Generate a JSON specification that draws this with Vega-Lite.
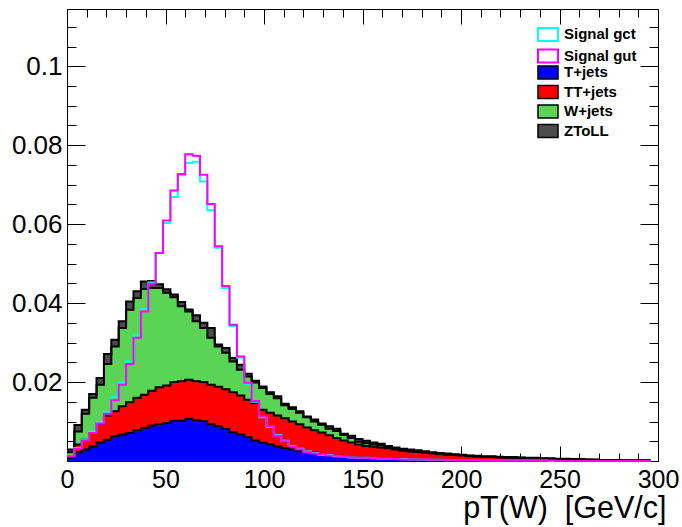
{
  "$schema": "https://vega.github.io/schema/vega-lite/v6.json",
  "width": 591,
  "height": 452,
  "autosize": "none",
  "padding": {"left": 67, "top": 9, "right": 24, "bottom": 66},
  "background": "white",
  "config": {
    "font": "Liberation Sans",
    "view": {"stroke": "#000000", "strokeWidth": 1},
    "axis": {"tickColor": "#000000", "tickWidth": 1, "labelColor": "#000000", "titleColor": "#000000", "labelFont": "Liberation Sans", "titleFont": "Liberation Sans", "grid": false, "domain": false, "zindex": 1},
    "legend": {"labelFontSize": 15, "labelFontWeight": "bold", "labelFont": "Liberation Sans", "labelColor": "#000000", "labelOffset": 8.5, "rowPadding": 0.5, "padding": 0, "symbolType": "M-1.54,-1H1.54V1H-1.54Z", "symbolSize": 169, "symbolOpacity": 1}
  },
  "data": {
    "values": [
      {"lo": 0, "tjets": 0.0008, "ttjets": 0.0004, "wjets": 0.0010, "ztoll": 0.0007, "gct": 0.0012, "gut": 0.0012},
      {"lo": 3.75, "tjets": 0.0022, "ttjets": 0.0020, "wjets": 0.0033, "ztoll": 0.0016, "gct": 0.0033, "gut": 0.0031},
      {"lo": 7.5, "tjets": 0.0029, "ttjets": 0.0025, "wjets": 0.0066, "ztoll": 0.0010, "gct": 0.0054, "gut": 0.0052},
      {"lo": 11.25, "tjets": 0.0037, "ttjets": 0.0034, "wjets": 0.0089, "ztoll": 0.0010, "gct": 0.0074, "gut": 0.0071},
      {"lo": 15, "tjets": 0.0047, "ttjets": 0.0048, "wjets": 0.0098, "ztoll": 0.0017, "gct": 0.0098, "gut": 0.0095},
      {"lo": 18.75, "tjets": 0.0054, "ttjets": 0.0061, "wjets": 0.0131, "ztoll": 0.0025, "gct": 0.0123, "gut": 0.0120},
      {"lo": 22.5, "tjets": 0.0063, "ttjets": 0.0063, "wjets": 0.0164, "ztoll": 0.0017, "gct": 0.0162, "gut": 0.0154},
      {"lo": 26.25, "tjets": 0.0067, "ttjets": 0.0072, "wjets": 0.0198, "ztoll": 0.0017, "gct": 0.0199, "gut": 0.0193},
      {"lo": 30, "tjets": 0.0071, "ttjets": 0.0078, "wjets": 0.0234, "ztoll": 0.0021, "gct": 0.0253, "gut": 0.0246},
      {"lo": 33.75, "tjets": 0.0078, "ttjets": 0.0082, "wjets": 0.0253, "ztoll": 0.0017, "gct": 0.0318, "gut": 0.0312},
      {"lo": 37.5, "tjets": 0.0084, "ttjets": 0.0084, "wjets": 0.0268, "ztoll": 0.0019, "gct": 0.0385, "gut": 0.0379},
      {"lo": 41.25, "tjets": 0.0090, "ttjets": 0.0088, "wjets": 0.0260, "ztoll": 0.0018, "gct": 0.0452, "gut": 0.0449},
      {"lo": 45, "tjets": 0.0094, "ttjets": 0.0093, "wjets": 0.0251, "ztoll": 0.0010, "gct": 0.0527, "gut": 0.0527},
      {"lo": 48.75, "tjets": 0.0096, "ttjets": 0.0095, "wjets": 0.0235, "ztoll": 0.0009, "gct": 0.0603, "gut": 0.0609},
      {"lo": 52.5, "tjets": 0.0102, "ttjets": 0.0098, "wjets": 0.0215, "ztoll": 0.0007, "gct": 0.0669, "gut": 0.0685},
      {"lo": 56.25, "tjets": 0.0102, "ttjets": 0.0100, "wjets": 0.0190, "ztoll": 0.0011, "gct": 0.0724, "gut": 0.0727},
      {"lo": 60, "tjets": 0.0107, "ttjets": 0.0099, "wjets": 0.0173, "ztoll": 0.0005, "gct": 0.0755, "gut": 0.0777},
      {"lo": 63.75, "tjets": 0.0103, "ttjets": 0.0099, "wjets": 0.0152, "ztoll": 0.0015, "gct": 0.0758, "gut": 0.0773},
      {"lo": 67.5, "tjets": 0.0101, "ttjets": 0.0099, "wjets": 0.0137, "ztoll": 0.0013, "gct": 0.0708, "gut": 0.0725},
      {"lo": 71.25, "tjets": 0.0094, "ttjets": 0.0099, "wjets": 0.0119, "ztoll": 0.0025, "gct": 0.0635, "gut": 0.0651},
      {"lo": 75, "tjets": 0.0088, "ttjets": 0.0100, "wjets": 0.0102, "ztoll": 0.0005, "gct": 0.0540, "gut": 0.0544},
      {"lo": 78.75, "tjets": 0.0081, "ttjets": 0.0101, "wjets": 0.0092, "ztoll": 0.0012, "gct": 0.0438, "gut": 0.0443},
      {"lo": 82.5, "tjets": 0.0073, "ttjets": 0.0101, "wjets": 0.0078, "ztoll": 0.0009, "gct": 0.0342, "gut": 0.0345},
      {"lo": 86.25, "tjets": 0.0067, "ttjets": 0.0099, "wjets": 0.0065, "ztoll": 0.0013, "gct": 0.0262, "gut": 0.0265},
      {"lo": 90, "tjets": 0.0060, "ttjets": 0.0095, "wjets": 0.0059, "ztoll": 0.0007, "gct": 0.0196, "gut": 0.0198},
      {"lo": 93.75, "tjets": 0.0052, "ttjets": 0.0095, "wjets": 0.0052, "ztoll": 0.0004, "gct": 0.0150, "gut": 0.0152},
      {"lo": 97.5, "tjets": 0.0046, "ttjets": 0.0084, "wjets": 0.0055, "ztoll": 0.0004, "gct": 0.0111, "gut": 0.0113},
      {"lo": 101.25, "tjets": 0.0042, "ttjets": 0.0080, "wjets": 0.0048, "ztoll": 0.0004, "gct": 0.0086, "gut": 0.0088},
      {"lo": 105, "tjets": 0.0037, "ttjets": 0.0078, "wjets": 0.0044, "ztoll": 0.0005, "gct": 0.0066, "gut": 0.0064},
      {"lo": 108.75, "tjets": 0.0033, "ttjets": 0.0075, "wjets": 0.0033, "ztoll": 0.0004, "gct": 0.0051, "gut": 0.0050},
      {"lo": 112.5, "tjets": 0.0029, "ttjets": 0.0071, "wjets": 0.0032, "ztoll": 0.0004, "gct": 0.0038, "gut": 0.0037},
      {"lo": 116.25, "tjets": 0.0025, "ttjets": 0.0068, "wjets": 0.0029, "ztoll": 0.0004, "gct": 0.0031, "gut": 0.0030},
      {"lo": 120, "tjets": 0.0022, "ttjets": 0.0063, "wjets": 0.0026, "ztoll": 0.0002, "gct": 0.0024, "gut": 0.0022},
      {"lo": 123.75, "tjets": 0.0021, "ttjets": 0.0057, "wjets": 0.0022, "ztoll": 0.0005, "gct": 0.0020, "gut": 0.0019},
      {"lo": 127.5, "tjets": 0.0018, "ttjets": 0.0054, "wjets": 0.0020, "ztoll": 0.0003, "gct": 0.0016, "gut": 0.0017},
      {"lo": 131.25, "tjets": 0.0015, "ttjets": 0.0050, "wjets": 0.0017, "ztoll": 0.0006, "gct": 0.0015, "gut": 0.0014},
      {"lo": 135, "tjets": 0.0013, "ttjets": 0.0045, "wjets": 0.0018, "ztoll": 0.0006, "gct": 0.0012, "gut": 0.0013},
      {"lo": 138.75, "tjets": 0.0011, "ttjets": 0.0041, "wjets": 0.0014, "ztoll": 0.0003, "gct": 0.0011, "gut": 0.0010},
      {"lo": 142.5, "tjets": 0.0010, "ttjets": 0.0037, "wjets": 0.0011, "ztoll": 0.0006, "gct": 0.0009, "gut": 0.0009},
      {"lo": 146.25, "tjets": 0.0009, "ttjets": 0.0033, "wjets": 0.0007, "ztoll": 0.0007, "gct": 0.0008, "gut": 0.0008},
      {"lo": 150, "tjets": 0.0008, "ttjets": 0.0030, "wjets": 0.0007, "ztoll": 0.0006, "gct": 0.0008, "gut": 0.0008},
      {"lo": 153.75, "tjets": 0.0007, "ttjets": 0.0029, "wjets": 0.0006, "ztoll": 0.0005, "gct": 0.0007, "gut": 0.0007},
      {"lo": 157.5, "tjets": 0.0006, "ttjets": 0.0028, "wjets": 0.0005, "ztoll": 0.0005, "gct": 0.0006, "gut": 0.0006},
      {"lo": 161.25, "tjets": 0.0006, "ttjets": 0.0026, "wjets": 0.0003, "ztoll": 0.0003, "gct": 0.0006, "gut": 0.0006},
      {"lo": 165, "tjets": 0.0005, "ttjets": 0.0024, "wjets": 0.0002, "ztoll": 0.0003, "gct": 0.0005, "gut": 0.0005},
      {"lo": 168.75, "tjets": 0.0005, "ttjets": 0.0021, "wjets": 0.0002, "ztoll": 0.0003, "gct": 0.0005, "gut": 0.0004},
      {"lo": 172.5, "tjets": 0.0004, "ttjets": 0.0020, "wjets": 0.0002, "ztoll": 0.0003, "gct": 0.0004, "gut": 0.0004},
      {"lo": 176.25, "tjets": 0.0004, "ttjets": 0.0019, "wjets": 0.0001, "ztoll": 0.0003, "gct": 0.0004, "gut": 0.0004},
      {"lo": 180, "tjets": 0.0003, "ttjets": 0.0018, "wjets": 0.0001, "ztoll": 0.0003, "gct": 0.0003, "gut": 0.0004},
      {"lo": 183.75, "tjets": 0.0003, "ttjets": 0.0016, "wjets": 0.0001, "ztoll": 0.0002, "gct": 0.0003, "gut": 0.0003},
      {"lo": 187.5, "tjets": 0.0003, "ttjets": 0.0014, "wjets": 0.0001, "ztoll": 0.0002, "gct": 0.0003, "gut": 0.0003},
      {"lo": 191.25, "tjets": 0.0002, "ttjets": 0.0014, "wjets": 0.0001, "ztoll": 0.0002, "gct": 0.0002, "gut": 0.0003},
      {"lo": 195, "tjets": 0.0002, "ttjets": 0.0013, "wjets": 0.0001, "ztoll": 0.0001, "gct": 0.0002, "gut": 0.0002},
      {"lo": 198.75, "tjets": 0.0002, "ttjets": 0.0012, "wjets": 0.0001, "ztoll": 0.0001, "gct": 0.0002, "gut": 0.0002},
      {"lo": 202.5, "tjets": 0.0002, "ttjets": 0.0010, "wjets": 0.0001, "ztoll": 0.0001, "gct": 0.0002, "gut": 0.0002},
      {"lo": 206.25, "tjets": 0.0001, "ttjets": 0.0010, "wjets": 0.0001, "ztoll": 0.0001, "gct": 0.0002, "gut": 0.0002},
      {"lo": 210, "tjets": 0.0001, "ttjets": 0.0009, "wjets": 0.0001, "ztoll": 0.0001, "gct": 0.0001, "gut": 0.0002},
      {"lo": 213.75, "tjets": 0.0001, "ttjets": 0.0009, "wjets": 0.0001, "ztoll": 0.0001, "gct": 0.0001, "gut": 0.0001},
      {"lo": 217.5, "tjets": 0.0001, "ttjets": 0.0008, "wjets": 0.0001, "ztoll": 0.0001, "gct": 0.0001, "gut": 0.0001},
      {"lo": 221.25, "tjets": 0.0001, "ttjets": 0.0007, "wjets": 0.0001, "ztoll": 0.0001, "gct": 0.0001, "gut": 0.0001},
      {"lo": 225, "tjets": 0.0001, "ttjets": 0.0007, "wjets": 0.0001, "ztoll": 0.0001, "gct": 0.0001, "gut": 0.0001},
      {"lo": 228.75, "tjets": 0.0001, "ttjets": 0.0006, "wjets": 0.0001, "ztoll": 0.0001, "gct": 0.0001, "gut": 0.0001},
      {"lo": 232.5, "tjets": 0.0001, "ttjets": 0.0006, "wjets": 0.0000, "ztoll": 0.0001, "gct": 0.0001, "gut": 0.0001},
      {"lo": 236.25, "tjets": 0.0001, "ttjets": 0.0005, "wjets": 0.0001, "ztoll": 0.0001, "gct": 0.0001, "gut": 0.0001},
      {"lo": 240, "tjets": 0.0000, "ttjets": 0.0006, "wjets": 0.0000, "ztoll": 0.0001, "gct": 0.0001, "gut": 0.0000},
      {"lo": 243.75, "tjets": 0.0000, "ttjets": 0.0005, "wjets": 0.0001, "ztoll": 0.0001, "gct": 0.0000, "gut": 0.0001},
      {"lo": 247.5, "tjets": 0.0000, "ttjets": 0.0005, "wjets": 0.0000, "ztoll": 0.0001, "gct": 0.0000, "gut": 0.0000},
      {"lo": 251.25, "tjets": 0.0000, "ttjets": 0.0004, "wjets": 0.0001, "ztoll": 0.0001, "gct": 0.0000, "gut": 0.0000},
      {"lo": 255, "tjets": 0.0000, "ttjets": 0.0004, "wjets": 0.0000, "ztoll": 0.0001, "gct": 0.0000, "gut": 0.0000},
      {"lo": 258.75, "tjets": 0.0000, "ttjets": 0.0004, "wjets": 0.0000, "ztoll": 0.0001, "gct": 0.0000, "gut": 0.0000},
      {"lo": 262.5, "tjets": 0.0000, "ttjets": 0.0003, "wjets": 0.0000, "ztoll": 0.0001, "gct": 0.0000, "gut": 0.0000},
      {"lo": 266.25, "tjets": 0.0000, "ttjets": 0.0003, "wjets": 0.0000, "ztoll": 0.0000, "gct": 0.0000, "gut": 0.0000},
      {"lo": 270, "tjets": 0.0000, "ttjets": 0.0002, "wjets": 0.0000, "ztoll": 0.0000, "gct": 0.0000, "gut": 0.0000},
      {"lo": 273.75, "tjets": 0.0000, "ttjets": 0.0002, "wjets": 0.0000, "ztoll": 0.0000, "gct": 0.0000, "gut": 0.0000},
      {"lo": 277.5, "tjets": 0.0000, "ttjets": 0.0002, "wjets": 0.0000, "ztoll": 0.0000, "gct": 0.0000, "gut": 0.0000},
      {"lo": 281.25, "tjets": 0.0000, "ttjets": 0.0001, "wjets": 0.0000, "ztoll": 0.0000, "gct": 0.0000, "gut": 0.0000},
      {"lo": 285, "tjets": 0.0000, "ttjets": 0.0001, "wjets": 0.0000, "ztoll": 0.0000, "gct": 0.0000, "gut": 0.0000},
      {"lo": 288.75, "tjets": 0.0000, "ttjets": 0.0001, "wjets": 0.0000, "ztoll": 0.0000, "gct": 0.0000, "gut": 0.0000},
      {"lo": 292.5, "tjets": 0.0000, "ttjets": 0.0001, "wjets": 0.0000, "ztoll": 0.0000, "gct": 0.0000, "gut": 0.0000},
      {"lo": 296.25, "tjets": 0.0000, "ttjets": 0.0001, "wjets": 0.0000, "ztoll": 0.0000, "gct": 0.0000, "gut": 0.0000}
    ]
  },
  "resolve": {"axis": {"x": "independent", "y": "independent"}},
  "layer": [
    {
      "transform": [
        {"fold": ["tjets", "ttjets", "wjets", "ztoll"], "as": ["process", "value"]},
        {"stack": "value", "groupby": ["lo"], "sort": [{"field": "process", "order": "ascending"}], "as": ["y0", "y1"]}
      ],
      "mark": {"type": "area", "interpolate": "step-after", "opacity": 1},
      "encoding": {
        "x": {
          "field": "lo", "type": "quantitative",
          "scale": {"domain": [0, 300], "nice": false, "zero": false},
          "axis": {
            "orient": "bottom", "values": [0, 50, 100, 150, 200, 250, 300],
            "tickSize": -15, "labelFontSize": 25, "labelPadding": 21,
            "labelFlush": false, "labelOverlap": false,
            "title": "pT(W) \u00a0[GeV/c]", "titleFontSize": 30.5, "titleFontWeight": "normal",
            "titleAlign": "right", "titleAnchor": "end", "titleBaseline": "alphabetic",
            "titleX": 599, "titleY": 56.6
          }
        },
        "y": {
          "field": "y1", "type": "quantitative",
          "scale": {"domain": [0, 0.1145], "nice": false, "zero": false},
          "axis": {
            "orient": "left", "values": [0.02, 0.04, 0.06, 0.08, 0.1], "format": "~g",
            "tickSize": -18, "labelFontSize": 26, "labelPadding": 23, "labelFlush": false, "title": null
          }
        },
        "y2": {"field": "y0"},
        "fill": {
          "field": "process", "type": "nominal",
          "scale": {
            "domain": ["tjets", "ttjets", "wjets", "ztoll"],
            "range": ["#0000ff", "#ff0000", "#59d454", "#4c4c4c"]
          },
          "legend": {
            "orient": "none", "legendX": 473.5, "legendY": 55.9, "title": null,
            "symbolStrokeColor": "#000000", "symbolStrokeWidth": 1.5,
            "labelExpr": "datum.label == 'tjets' ? 'T+jets' : datum.label == 'ttjets' ? 'TT+jets' : datum.label == 'wjets' ? 'W+jets' : 'ZToLL'"
          }
        }
      }
    },
    {
      "transform": [
        {"fold": ["tjets", "ttjets", "wjets", "ztoll"], "as": ["process", "value"]},
        {"stack": "value", "groupby": ["lo"], "sort": [{"field": "process", "order": "ascending"}], "as": ["y0", "y1"]}
      ],
      "mark": {"type": "line", "interpolate": "step-after", "color": "#000000", "strokeWidth": 2},
      "encoding": {
        "x": {
          "field": "lo", "type": "quantitative",
          "axis": {"orient": "bottom", "values": [10, 20, 30, 40, 60, 70, 80, 90, 110, 120, 130, 140, 160, 170, 180, 190, 210, 220, 230, 240, 260, 270, 280, 290], "tickSize": -8, "labels": false, "title": null}
        },
        "y": {
          "field": "y1", "type": "quantitative",
          "axis": {"orient": "left", "values": [0.005, 0.01, 0.015, 0.025, 0.03, 0.035, 0.045, 0.05, 0.055, 0.065, 0.07, 0.075, 0.085, 0.09, 0.095, 0.105, 0.11], "tickSize": -9, "labels": false, "title": null}
        },
        "detail": {"field": "process", "type": "nominal"}
      }
    },
    {
      "transform": [{"fold": ["gct"], "as": ["process", "value"]}],
      "mark": {"type": "line", "interpolate": "step-after", "strokeWidth": 2},
      "encoding": {
        "x": {
          "field": "lo", "type": "quantitative",
          "axis": {"orient": "top", "values": [0, 50, 100, 150, 200, 250, 300], "tickSize": -15, "labels": false, "title": null}
        },
        "y": {
          "field": "value", "type": "quantitative",
          "axis": {"orient": "right", "values": [0.02, 0.04, 0.06, 0.08, 0.1], "tickSize": -18, "labels": false, "title": null}
        },
        "stroke": {
          "field": "process", "type": "nominal",
          "scale": {"domain": ["gct", "gut"], "range": ["#00ffff", "#ff00ff"]},
          "legend": {
            "orient": "none", "legendX": 473.5, "legendY": 17.9, "title": null,
            "symbolFillColor": "#ffffff", "symbolStrokeWidth": 2,
            "labelExpr": "datum.label == 'gct' ? 'Signal gct' : 'Signal gut'"
          }
        }
      }
    },
    {
      "transform": [{"fold": ["gut"], "as": ["process", "value"]}],
      "mark": {"type": "line", "interpolate": "step-after", "strokeWidth": 2},
      "encoding": {
        "x": {
          "field": "lo", "type": "quantitative",
          "axis": {"orient": "top", "values": [10, 20, 30, 40, 60, 70, 80, 90, 110, 120, 130, 140, 160, 170, 180, 190, 210, 220, 230, 240, 260, 270, 280, 290], "tickSize": -8, "labels": false, "title": null}
        },
        "y": {
          "field": "value", "type": "quantitative",
          "axis": {"orient": "right", "values": [0.005, 0.01, 0.015, 0.025, 0.03, 0.035, 0.045, 0.05, 0.055, 0.065, 0.07, 0.075, 0.085, 0.09, 0.095, 0.105, 0.11], "tickSize": -9, "labels": false, "title": null}
        },
        "stroke": {"field": "process", "type": "nominal", "legend": null}
      }
    }
  ]
}
